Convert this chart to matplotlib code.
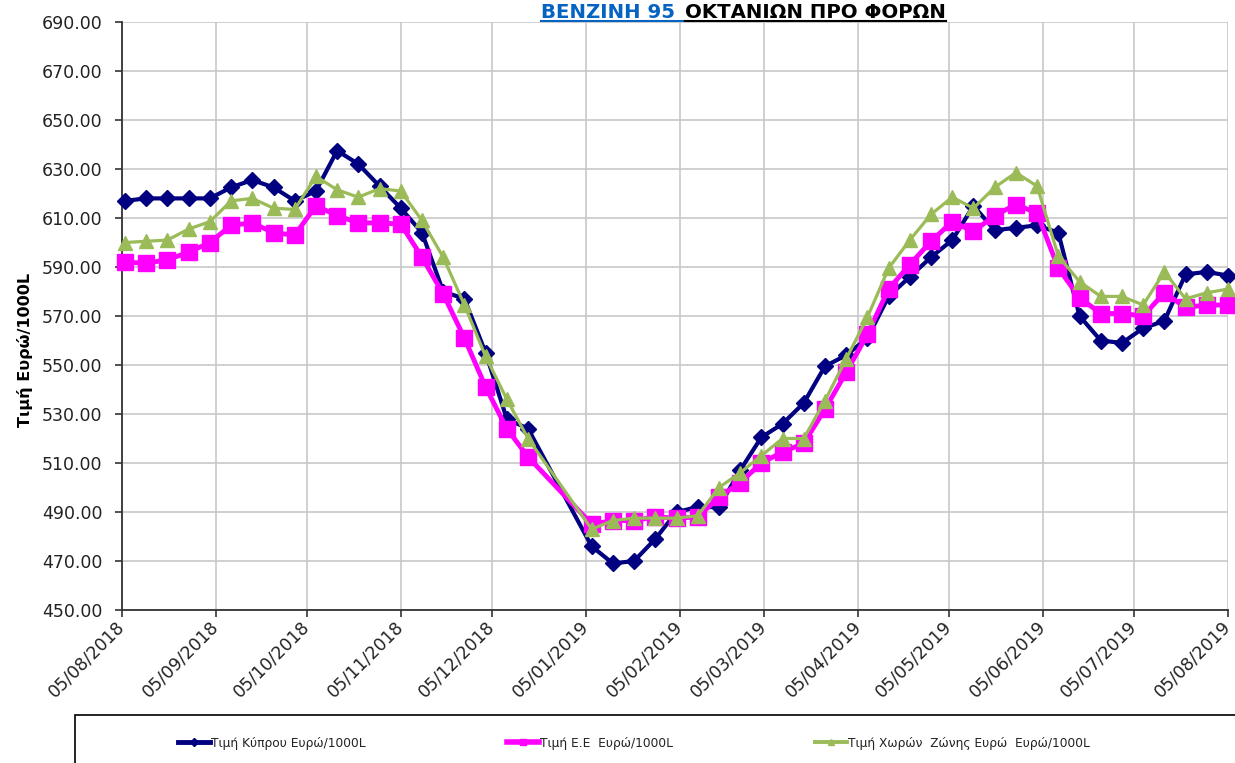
import matplotlib
matplotlib.use("Agg")
import matplotlib.pyplot as plt
import matplotlib.dates as mdates
from matplotlib.lines import Line2D
from matplotlib.patches import Rectangle
from matplotlib.ticker import FormatStrFormatter
import pandas as pd

# weekly prices (no data for the two holiday weeks)
dates = ["2018-08-06", "2018-08-13", "2018-08-20", "2018-08-27", "2018-09-03",
         "2018-09-10", "2018-09-17", "2018-09-24", "2018-10-01", "2018-10-08",
         "2018-10-15", "2018-10-22", "2018-10-29", "2018-11-05", "2018-11-12",
         "2018-11-19", "2018-11-26", "2018-12-03", "2018-12-10", "2018-12-17",
         "2019-01-07", "2019-01-14", "2019-01-21", "2019-01-28", "2019-02-04",
         "2019-02-11", "2019-02-18", "2019-02-25", "2019-03-04", "2019-03-11",
         "2019-03-18", "2019-03-25", "2019-04-01", "2019-04-08", "2019-04-15",
         "2019-04-22", "2019-04-29", "2019-05-06", "2019-05-13", "2019-05-20",
         "2019-05-27", "2019-06-03", "2019-06-10", "2019-06-17", "2019-06-24",
         "2019-07-01", "2019-07-08", "2019-07-15", "2019-07-22", "2019-07-29",
         "2019-08-05"]

cyprus = [617, 618, 618, 618, 618, 622.5, 625.5, 622.5, 617, 621,
          637.5, 632, 623, 614, 604, 580, 577, 555, 528, 524,
          476, 469, 470, 479, 490, 492, 492, 507, 520.5, 526,
          534.5, 549.5, 554, 561, 578, 586, 594, 601, 615, 605,
          606, 607, 604, 570, 560, 559, 565, 568, 587, 588, 586.5]

eu = [592, 591.5, 593, 596, 600, 607, 608, 604, 603, 615,
      611, 608, 608, 607.5, 594, 579, 561, 541, 524, 512.5,
      485, 486.5, 486.5, 488, 487.5, 488, 496, 502, 510, 514.5,
      518, 532, 547, 562.5, 581, 591, 600.5, 608.5, 604.5, 611,
      615.5, 612, 589.5, 577.5, 571, 571, 570, 579.5, 573.5, 574.5, 574.5]

eurozone = [600, 600.5, 601, 605.5, 608.5, 617, 618, 614, 613.5, 627,
            621.5, 618.5, 622, 621, 609, 594, 574.5, 553.5, 536, 520,
            483, 486.5, 487.5, 487.5, 487.5, 488.5, 500, 506, 513, 520,
            520, 535.5, 552.5, 569.5, 589.5, 601, 611.5, 618.5, 614, 622.5,
            628.5, 623, 594.5, 584, 578, 578, 574.5, 588, 577, 579.5, 581]

labels = ["Τιμή Κύπρου Ευρώ/1000L", "Τιμή Ε.Ε  Ευρώ/1000L",
          "Τιμή Χωρών  Ζώνης Ευρώ  Ευρώ/1000L"]
colors = ["#000080", "#FF00FF", "#9BBB59"]

W, H = 1235, 763
fig = plt.figure(figsize=(W / 100, H / 100), dpi=100)
ax = fig.add_axes([122 / W, 1 - 610 / H, (1228 - 122) / W, (610 - 22) / H])

x = pd.to_datetime(dates)
ax.plot(x, cyprus, color=colors[0], lw=3, marker="D", ms=8, zorder=3, clip_on=False)
ax.plot(x, eu, color=colors[1], lw=3.5, marker="s", ms=12, zorder=4, clip_on=False)
ax.plot(x, eurozone, color=colors[2], lw=2.3, marker="^", ms=10, zorder=5, clip_on=False)

ax.set_xlim(pd.Timestamp("2018-08-05"), pd.Timestamp("2019-08-05"))
ax.set_ylim(450, 690)
ax.set_yticks(range(450, 691, 20))
ax.yaxis.set_major_formatter(FormatStrFormatter("%.2f"))
ax.xaxis.set_major_locator(mdates.MonthLocator(bymonthday=5))
ax.xaxis.set_major_formatter(mdates.DateFormatter("%d/%m/%Y"))

ax.grid(True, color="#c8c8c8", lw=1.2)
ax.set_axisbelow(True)
for s in ["top", "right"]:
    ax.spines[s].set_visible(False)
for s in ["left", "bottom"]:
    ax.spines[s].set_color("#333333")
    ax.spines[s].set_linewidth(1.3)

ax.tick_params(direction="out", length=5, width=1.2, color="#333333",
               labelsize=12.5, labelcolor="#222222")
ax.tick_params(axis="y", pad=9)
ax.tick_params(axis="x", pad=5)
for lab in ax.get_xticklabels():
    lab.set_rotation(45)
    lab.set_ha("right")
    lab.set_va("center")
    lab.set_rotation_mode("anchor")

ax.set_ylabel("Τιμή Ευρώ/1000L", fontsize=11.5, fontweight="bold")
ax.yaxis.set_label_coords((33 - 122) / 1106, (610 - 350) / 588)

# title, two colours, underlined
r = fig.canvas.get_renderer()
ty = 1 - 18 / H
t1 = fig.text(541 / W, ty, "ΒΕΝΖΙΝΗ 95", color="#0563C1", fontsize=14.2,
              fontweight="bold", ha="left", va="baseline")
b1 = t1.get_window_extent(r)
x2 = b1.x1 + 10
t2 = fig.text(x2 / W, ty, "ΟΚΤΑΝΙΩΝ ΠΡΟ ΦΟΡΩΝ", color="black", fontsize=14.2,
              fontweight="bold", ha="left", va="baseline")
b2 = t2.get_window_extent(r)
fig.add_artist(Line2D([b1.x0 / W, x2 / W], [1 - 21 / H] * 2, color="#0563C1", lw=1.5))
fig.add_artist(Line2D([x2 / W, b2.x1 / W], [1 - 21 / H] * 2, color="black", lw=1.5))

# legend box at the bottom
fig.add_artist(Rectangle((75 / W, -0.05), 1.0, 1 - 715 / H + 0.05, transform=fig.transFigure,
                         facecolor="white", edgecolor="black", lw=1.2))
handles = [Line2D([], [], color=colors[0], lw=3.5, marker="D", ms=4),
           Line2D([], [], color=colors[1], lw=4, marker="s", ms=5),
           Line2D([], [], color=colors[2], lw=2.8, marker="^", ms=5)]
fig.legend(handles, labels, loc="center left", bbox_to_anchor=(167 / W, 1 - 743 / H),
           ncol=3, frameon=False, fontsize=8.8, handlelength=2.6, handletextpad=0.1,
           columnspacing=11.6, labelcolor="#222222")

fig.savefig("out.png", dpi=100)
